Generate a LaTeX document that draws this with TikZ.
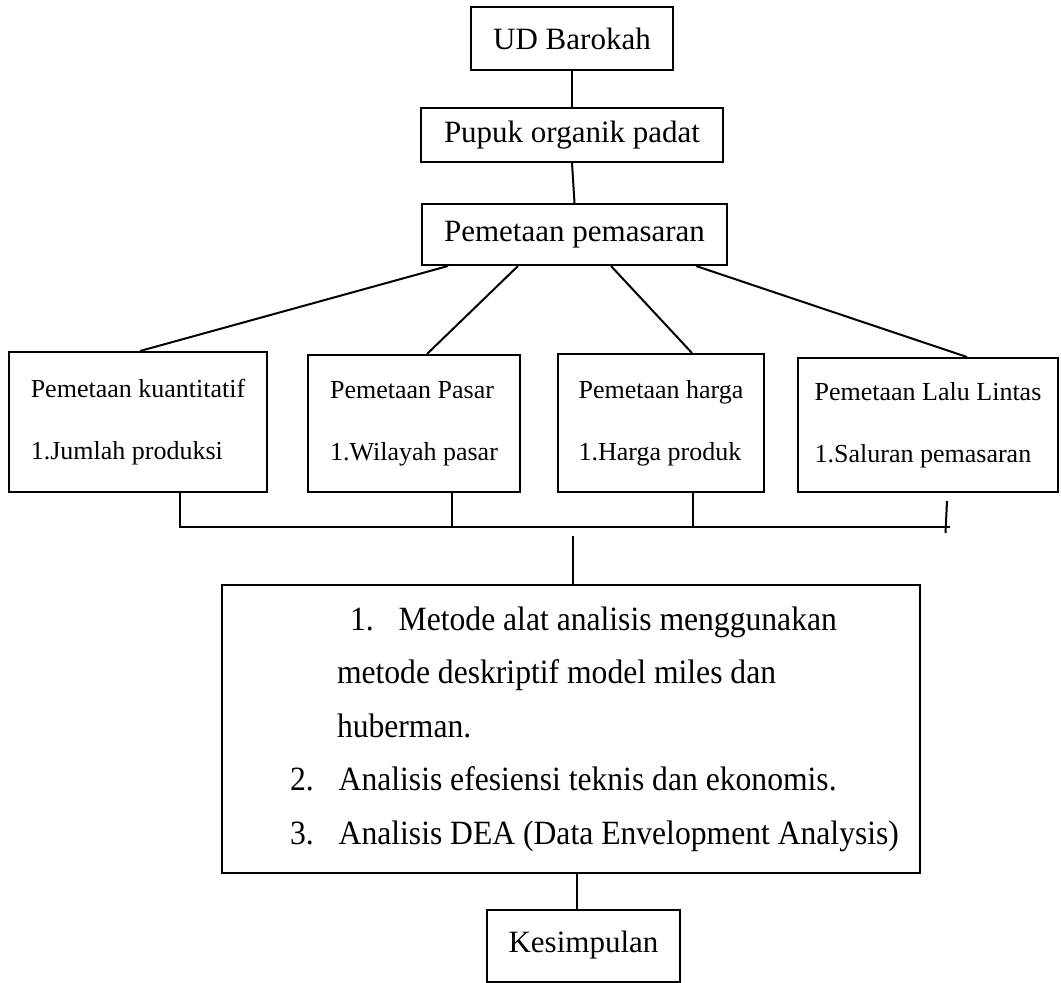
\documentclass[tikz,border=0pt]{standalone}
\usepackage{fontspec}
\setmainfont{Liberation Serif}
\newfontfamily\sempit[FakeStretch=0.93]{Liberation Serif}
\tikzset{
  kotak/.style={draw=black,line width=2pt,inner sep=0pt,align=center},
  judul/.style={kotak,font=\fontsize{31}{36}\selectfont},
  peta/.style={kotak,align=left,font=\fontsize{26}{62}\selectfont},
  garis/.style={draw=black,line width=2pt}
}
\begin{document}
\begin{tikzpicture}[x=1pt,y=-1pt]
\useasboundingbox (0,0) rectangle (1061,983);

\node[judul,minimum width=202,minimum height=63] (ud) at (572,38.5) {UD Barokah};
\node[judul,minimum width=302,minimum height=54] (pupuk) at (572,135) {Pupuk organik padat};
\node[judul,minimum width=305,minimum height=61] (pem) at (574.5,234.5) {Pemetaan pemasaran};

\node[peta,minimum width=258,minimum height=140] (kuant) at (138,422) {Pemetaan kuantitatif\\1.Jumlah produksi};
\node[peta,minimum width=212,minimum height=137] (pasar) at (414,423.5) {Pemetaan Pasar\\1.Wilayah pasar};
\node[peta,minimum width=206,minimum height=138] (harga) at (661,423) {Pemetaan harga\\1.Harga produk};
\node[peta,minimum width=260,minimum height=134] (lalu) at (928,425) {Pemetaan Lalu Lintas\\1.Saluran pemasaran};

\node[kotak,align=flush left,text width=678,inner xsep=10,minimum height=288,font=\sempit\fontsize{34}{53.5}\selectfont] (metode) at (571,729)
  {\hspace*{118pt}1.\hspace*{25pt}Metode alat analisis menggunakan\\
   \hspace*{105pt}metode deskriptif model miles dan\\
   \hspace*{105pt}huberman.\\
   \hspace*{58pt}2.\hspace*{25pt}Analisis efesiensi teknis dan ekonomis.\\
   \hspace*{58pt}3.\hspace*{25pt}Analisis DEA (Data Envelopment Analysis)};

\node[judul,minimum width=193,minimum height=72] (kes) at (583.5,945.5) {Kesimpulan};

\draw[garis] (ud) -- (pupuk);
\draw[garis] (pupuk.south) -- (pem.north);

\draw[garis] ([xshift=-126.5]pem.south) -- ([xshift=2]kuant.north);
\draw[garis] ([xshift=-56.5]pem.south) -- ([xshift=13]pasar.north);
\draw[garis] ([xshift=36.5]pem.south) -- ([xshift=31]harga.north);
\draw[garis] ([xshift=121.5]pem.south) -- ([xshift=39]lalu.north);

\coordinate (busr) at (950,527);
\draw[garis] ([xshift=42]kuant.south) |- (busr);
\draw[garis] ([xshift=38]pasar.south) -- ([xshift=38]pasar.south |- busr);
\draw[garis] ([xshift=32]harga.south) -- ([xshift=32]harga.south |- busr);
\draw[garis] ([shift={(19,8)}]lalu.south) -- ([shift={(17.5,40)}]lalu.south);

\coordinate (hub) at (573,536);
\draw[garis] (hub) -- (hub |- metode.north);
\draw[garis] ([xshift=-7]kes.north) -- ([xshift=-7]kes.north |- metode.south);

\end{tikzpicture}
\end{document}
